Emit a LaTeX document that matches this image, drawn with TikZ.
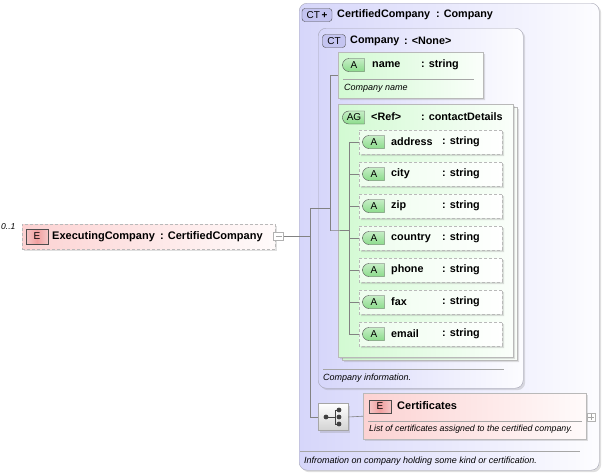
\documentclass[tikz,border=0pt]{standalone}
\usepackage{fontspec}
\setmainfont{Liberation Sans}
\usetikzlibrary{positioning,shapes.misc,shadows}
\definecolor{ctback}{RGB}{214,214,250}
\definecolor{ctedge}{RGB}{165,165,180}
\definecolor{agback}{RGB}{210,250,210}
\definecolor{elback}{RGB}{252,210,210}
\definecolor{badgegreen}{RGB}{140,220,140}
\definecolor{badgepink}{RGB}{240,160,160}
\definecolor{badgeblue}{RGB}{196,196,240}
\definecolor{linegray}{RGB}{130,130,130}

\tikzset{
  shade/.style={drop shadow={shadow xshift=2pt, shadow yshift=-2pt, opacity=0.25}},
  ctbox/.style={draw=ctedge, rounded corners=8pt, left color=ctback, right color=white!94!ctback,
    anchor=north west, inner sep=0pt, shade},
  agbox/.style={chamfered rectangle, chamfered rectangle corners={north west,south west},
    chamfered rectangle xsep=6pt, draw=gray!55, left color=agback, right color=white!90!agback,
    anchor=north west, inner sep=0pt, shade},
  attrbox/.style={agbox, dash pattern=on 3pt off 2pt, left color=white!60!agback, right color=white},
  elbox/.style={draw=gray!55, left color=elback, right color=white!90!elback,
    anchor=north west, inner sep=0pt, shade},
  badge/.style={draw=gray!60!black, inner sep=0pt, minimum height=13pt, font=\fontsize{10}{10}\selectfont},
  ebadge/.style={badge, rectangle, minimum width=22pt, left color=white!40!badgepink,
    right color=white!40!badgepink, middle color=badgepink},
  abadge/.style={badge, rounded rectangle, rounded rectangle right arc=none, minimum width=22pt,
    top color=white!50!badgegreen, bottom color=badgegreen},
  ctbadge/.style={badge, rounded corners=3pt, minimum width=23pt, fill=badgeblue},
  lbl/.style={anchor=west, inner sep=0pt, font=\bfseries\fontsize{10.8}{12}\selectfont},
  biglbl/.style={lbl, font=\bfseries\fontsize{11}{13}\selectfont},
  note/.style={anchor=west, inner sep=0pt, font=\itshape\fontsize{9}{10}\selectfont},
  sepline/.style={draw=gray!70, line width=0.6pt},
  conn/.style={draw=linegray, line width=0.6pt},
  toggle/.style={draw=gray!60, fill=white, minimum size=8pt, inner sep=0pt},
  glyph/.style={black!75, line width=1pt},
}

\begin{document}
\begin{tikzpicture}[x=1pt, y=-1pt]
  \useasboundingbox (0,0) rectangle (603,474);

  % root element
  \node (exec) [elbox, dash pattern=on 3pt off 2pt, minimum width=253pt, minimum height=25pt] at (22,224) {};
  \node (occurs) [note, font=\itshape\fontsize{8.5}{10}\selectfont] at (1,227) {0..1};
  \node (execE) [ebadge, minimum height=15pt] at (37,236.5) {E};
  \node (execname) [biglbl] at (52,237) {ExecutingCompany};
  \node (exectype) [biglbl] at (160,237) {: CertifiedCompany};
  \node (execminus) [toggle, minimum width=10pt] at (278.5,236.5) {};
  \draw[gray!70] ([xshift=-3pt]execminus.center) -- ([xshift=3pt]execminus.center);

  % complex type CertifiedCompany
  \node (certified) [ctbox, minimum width=300pt, minimum height=467pt] at (299,3) {};
  \node (certbadge) [ctbadge, minimum width=30pt] at (317,15) {CT\,\textbf{+}};
  \node (certname) [lbl] at (337,15) {CertifiedCompany};
  \node (certtype) [lbl] at (436,15) {: Company};
  \draw[sepline] (300,451) -- (580,451);
  \node (certnote) [note] at (304,461) {Infromation on company holding some kind or certification.};

  % complex type Company
  \node (company) [ctbox, minimum width=205pt, minimum height=360pt] at (318,28) {};
  \node (companybadge) [ctbadge] at (334,41) {CT};
  \node (companyname) [lbl] at (350,41) {Company};
  \node (companytype) [lbl] at (404,41) {: <None>};
  \draw[sepline] (323,369) -- (504,369);
  \node (companynote) [note] at (323,378) {Company information.};

  % attribute name
  \node (name) [agbox, minimum width=145pt, minimum height=46pt] at (338,52) {};
  \node (nameA) [abadge] at (354,65) {A};
  \node (namename) [lbl] at (372,65) {name};
  \node (nametype) [lbl] at (421,65) {: string};
  \draw[sepline] (343,79) -- (474,79);
  \node (namenote) [note] at (344,88) {Company name};

  % attribute group contactDetails
  \node (contactback) [agbox, minimum width=175pt, minimum height=253pt] at (342,107) {};
  \node (contact) [agbox, minimum width=175pt, minimum height=253pt] at (338,104) {};
  \node (contactbadge) [abadge] at (354,117.5) {AG};
  \node (contactname) [lbl] at (371,117) {<Ref>};
  \node (contacttype) [lbl] at (421,117) {: contactDetails};

  \node (address) [attrbox, minimum width=143pt, minimum height=24pt] at (359,130) {};
  \node (addressA) [abadge] at (374,142) {A};
  \node (addressname) [lbl] at (391,142) {address};
  \node (addresstype) [lbl] at (442,142) {: string};

  \node (city) [attrbox, minimum width=143pt, minimum height=24pt] at (359,162) {};
  \node (cityA) [abadge] at (374,174) {A};
  \node (cityname) [lbl] at (391,174) {city};
  \node (citytype) [lbl] at (442,174) {: string};

  \node (zip) [attrbox, minimum width=143pt, minimum height=24pt] at (359,194) {};
  \node (zipA) [abadge] at (374,206) {A};
  \node (zipname) [lbl] at (391,206) {zip};
  \node (ziptype) [lbl] at (442,206) {: string};

  \node (country) [attrbox, minimum width=143pt, minimum height=24pt] at (359,226) {};
  \node (countryA) [abadge] at (374,238) {A};
  \node (countryname) [lbl] at (391,238) {country};
  \node (countrytype) [lbl] at (442,238) {: string};

  \node (phone) [attrbox, minimum width=143pt, minimum height=24pt] at (359,258) {};
  \node (phoneA) [abadge] at (374,270) {A};
  \node (phonename) [lbl] at (391,270) {phone};
  \node (phonetype) [lbl] at (442,270) {: string};

  \node (fax) [attrbox, minimum width=143pt, minimum height=24pt] at (359,290) {};
  \node (faxA) [abadge] at (374,302) {A};
  \node (faxname) [lbl] at (391,302) {fax};
  \node (faxtype) [lbl] at (442,302) {: string};

  \node (email) [attrbox, minimum width=143pt, minimum height=24pt] at (359,322) {};
  \node (emailA) [abadge] at (374,334) {A};
  \node (emailname) [lbl] at (391,334) {email};
  \node (emailtype) [lbl] at (442,334) {: string};

  % sequence and element Certificates
  \node (seqicon) [draw=gray!70, top color=white, bottom color=gray!35, minimum width=30pt,
    minimum height=27pt, inner sep=0pt, shade] at (333,417) {};
  \draw[glyph] (seqicon.center) ++(-7,0) -- ++(9,0) ++(0,-7) -- ++(0,14)
    (seqicon.center) ++(2,-7) -- ++(4,0) (seqicon.center) ++(2,7) -- ++(4,0);
  \fill[black!75] (seqicon.center) ++(-7,0) circle (2.4pt)
    (seqicon.center) ++(6,-7) circle (2.4pt)
    (seqicon.center) ++(6,0) circle (2.4pt)
    (seqicon.center) ++(6,7) circle (2.4pt);

  \node (certificates) [elbox, minimum width=223pt, minimum height=46pt] at (363,393) {};
  \node (certificatesE) [ebadge] at (380,406.5) {E};
  \node (certificatesname) [biglbl] at (397,406) {Certificates};
  \draw[sepline] (368,421) -- (582,421);
  \node (certificatesnote) [note, font=\itshape\fontsize{8.8}{10}\selectfont] at (369,429)
    {List of certificates assigned to the certified company.};
  \node (certplus) [toggle] at (591,417) {};
  \draw[gray!70] ([xshift=-3pt]certplus.center) -- ([xshift=3pt]certplus.center)
    ([yshift=-3pt]certplus.center) -- ([yshift=3pt]certplus.center);

  % connectors
  \coordinate (rootbus) at (310,208);
  \coordinate (companybus) at (330,208);
  \coordinate (contactbus) at (349,230.5);
  \path[conn]
    (execminus.east) edge (execminus.east -| rootbus)
    (rootbus) edge (rootbus |- seqicon.west)
    (rootbus) edge (companybus)
    (seqicon.west -| rootbus) edge (seqicon.west)
    (seqicon.east) edge (certificates.west)
    (companybus |- name.west) edge (companybus |- contact.west)
    (name.west -| companybus) edge (name.west)
    (contact.west -| companybus) edge (contactbus)
    (contactbus |- address.west) edge (contactbus |- email.west);
  \path[conn]
    (address.west -| contactbus) edge (address.west)
    (city.west -| contactbus) edge (city.west)
    (zip.west -| contactbus) edge (zip.west)
    (country.west -| contactbus) edge (country.west)
    (phone.west -| contactbus) edge (phone.west)
    (fax.west -| contactbus) edge (fax.west)
    (email.west -| contactbus) edge (email.west);
\end{tikzpicture}
\end{document}
